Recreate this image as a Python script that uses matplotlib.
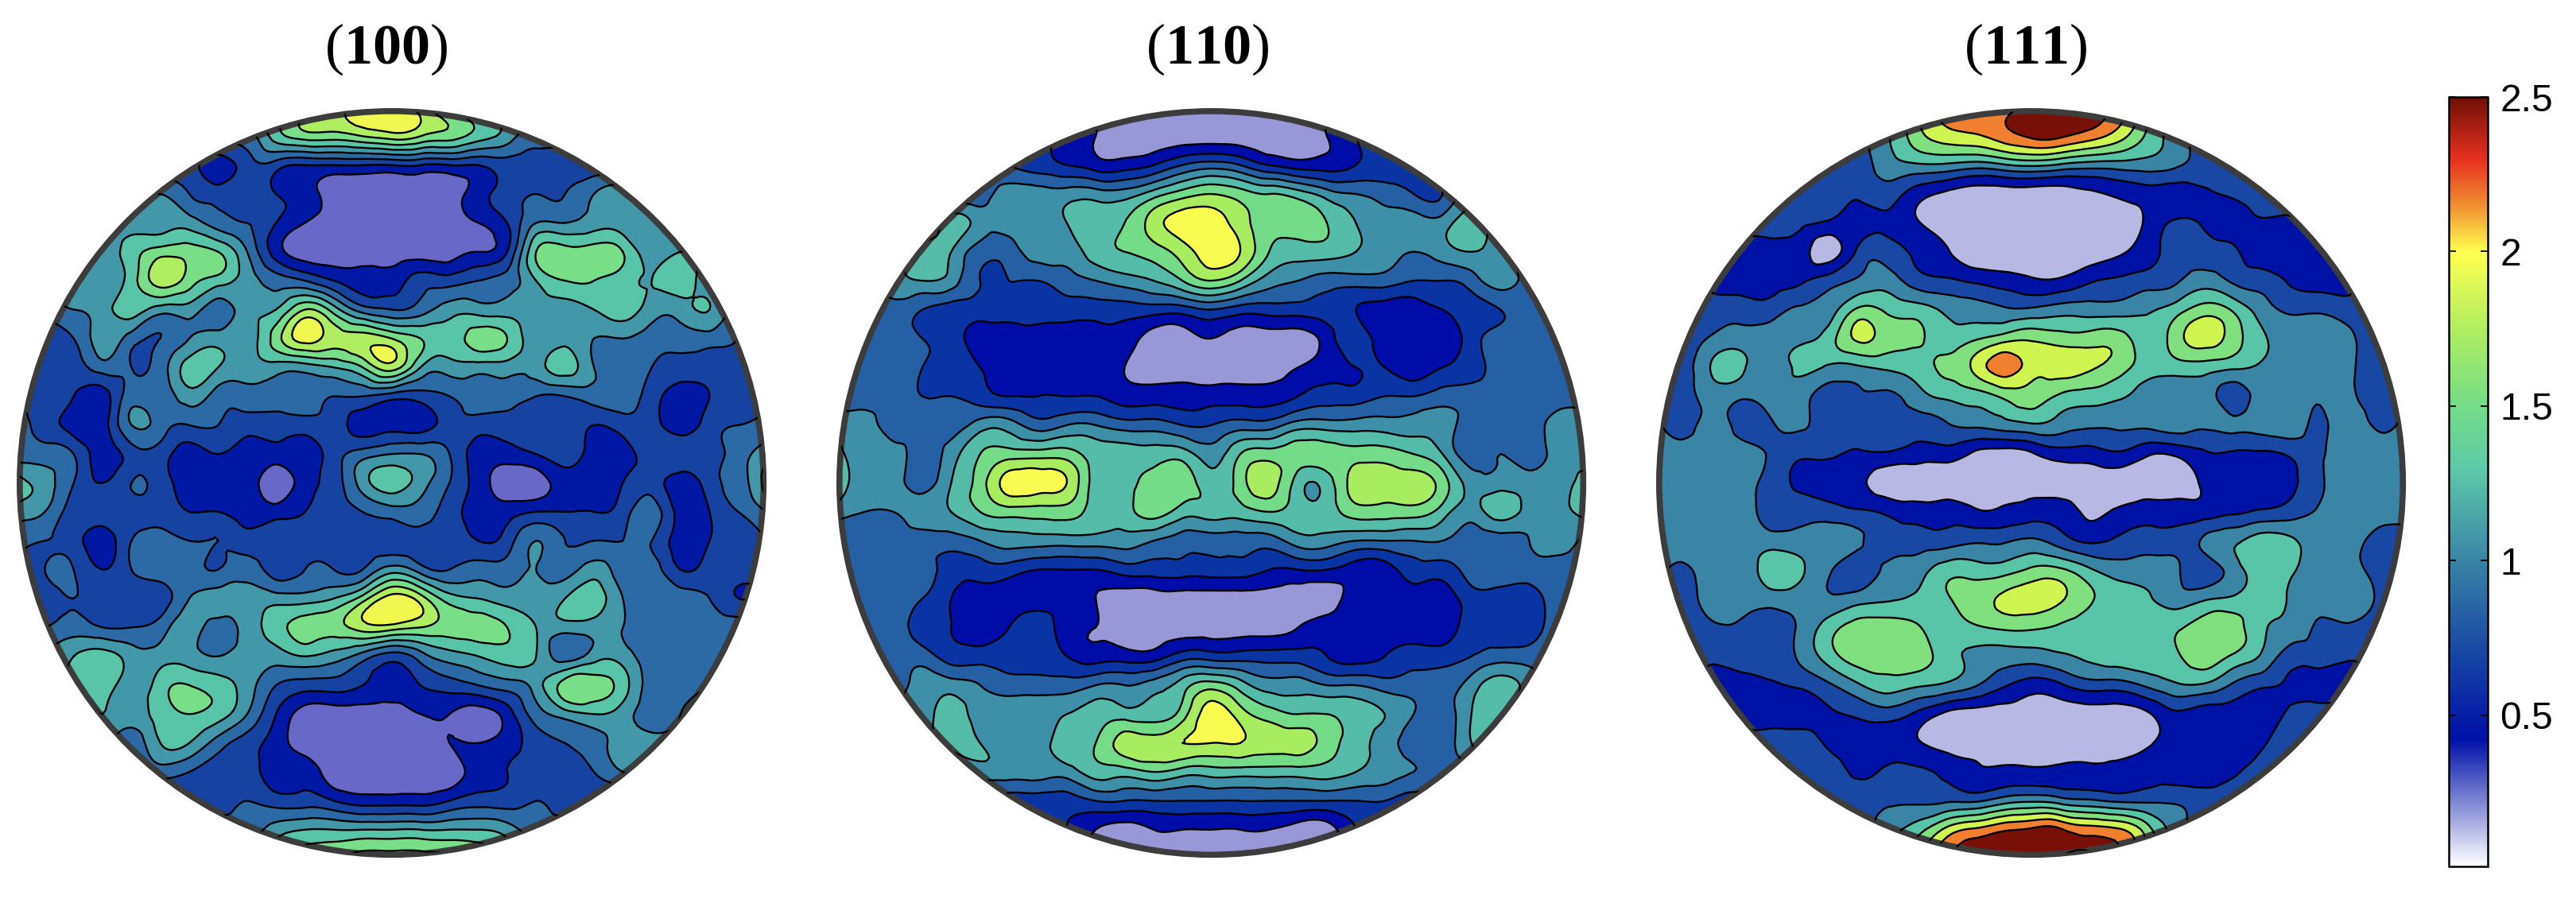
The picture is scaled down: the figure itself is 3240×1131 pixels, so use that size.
import numpy as np
import matplotlib
matplotlib.use('Agg')
import matplotlib.pyplot as plt
from matplotlib.colors import LinearSegmentedColormap, Normalize
from matplotlib.cm import ScalarMappable
from matplotlib.patches import Circle
from matplotlib.tri import Triangulation, UniformTriRefiner

# pole density, in tenths, on a regular grid over each disc
panel_100 = [
    [9,9,9,9,9,9,9,9,9,11,15,17,19,19,17,13,11,9,9,9,9,9,9,9,9,9,9],
    [9,9,9,9,9,9,9,9,9,13,15,15,16,17,16,15,13,11,9,9,9,9,9,9,9,9,9],
    [7,7,7,7,7,7,7,5,7,7,6,6,6,6,6,6,6,7,7,7,7,7,7,7,7,7,7],
    [9,9,9,9,9,10,8,7,7,6,5,3,3,3,3,3,5,7,8,8,10,11,11,11,11,11,11],
    [11,11,11,11,11,11,11,9,8,6,4,3,3,3,3,3,4,6,10,10,11,11,11,11,11,11,11],
    [11,11,11,11,13,15,15,14,10,5,3,3,3,3,3,3,4,6,14,15,15,14,11,12,11,11,11],
    [11,11,11,11,13,17,15,13,11,9,8,6,5,5,7,7,8,9,12,14,14,13,12,13,11,11,11],
    [9,9,10,11,13,11,11,9,11,12,16,13,9,8,9,11,11,11,11,11,12,13,11,11,12,9,9],
    [7,7,8,11,9,8,10,11,11,15,19,17,17,16,14,13,15,14,11,11,10,10,9,9,9,8,7],
    [5,7,7,9,8,9,13,12,11,11,11,12,14,17,12,11,11,11,11,13,10,9,8,7,7,7,7],
    [7,7,6,5,9,9,11,9,9,9,9,8,8,7,7,8,9,9,8,8,9,9,7,5,6,7,7],
    [9,7,5,5,10,9,8,8,7,7,7,7,5,5,5,7,7,7,7,7,6,7,7,5,7,8,9],
    [9,9,8,5,7,7,5,6,5,5,5,7,9,10,10,8,5,5,6,7,5,5,7,7,7,9,11],
    [13,11,8,6,8,7,5,5,5,3,5,7,11,13,11,8,5,3,3,5,5,6,7,5,7,9,13],
    [11,10,7,7,7,7,6,6,5,5,6,7,8,9,9,7,5,5,6,6,6,7,9,5,6,8,10],
    [9,8,7,5,8,9,8,8,7,7,7,7,7,7,7,7,6,7,10,8,8,8,8,5,6,7,8],
    [7,8,8,6,8,9,9,8,9,7,8,8,8,11,9,8,9,9,10,9,11,9,9,6,7,7,7],
    [7,7,8,7,7,7,10,11,11,11,11,12,15,19,17,13,12,11,11,12,13,10,9,9,8,6,7],
    [8,8,9,8,8,9,11,9,11,13,15,15,17,17,16,15,15,14,12,11,11,10,9,9,9,9,9],
    [11,11,12,13,11,11,11,10,11,11,12,11,9,7,9,11,12,13,12,9,11,11,9,9,9,9,9],
    [11,11,12,13,11,13,14,13,11,8,7,7,6,5,6,7,8,9,11,15,15,13,9,9,10,11,11],
    [11,11,11,12,11,13,14,13,10,6,3,3,3,3,4,4,3,5,9,11,12,11,9,10,11,11,11],
    [11,11,11,11,9,12,12,9,7,5,3,3,3,3,3,4,4,5,7,8,9,11,11,11,11,11,11],
    [9,9,9,9,9,9,8,7,7,5,5,3,3,3,3,3,5,6,7,7,8,10,11,11,11,11,11],
    [7,7,7,7,7,7,7,7,8,7,7,6,5,5,5,6,7,7,8,7,7,7,7,7,7,7,7],
    [9,9,9,9,9,9,9,9,9,11,12,12,12,12,12,12,12,11,9,9,9,9,9,9,9,9,9],
    [9,9,9,9,9,9,9,9,9,13,15,16,17,17,17,17,16,13,9,9,9,9,9,9,9,9,9],
]

panel_110 = [
    [7,7,7,7,7,7,7,5,4,3,3,3,3,3,3,3,3,3,5,7,7,7,7,7,7,7,7],
    [7,7,7,7,7,7,7,7,5,4,3,3,3,3,3,3,3,4,6,7,7,7,7,7,7,7,7],
    [9,9,9,9,9,9,8,7,6,5,5,6,8,9,8,6,5,5,6,7,8,9,9,9,9,9,9],
    [9,9,9,9,9,9,11,11,11,11,11,13,15,16,15,14,13,11,10,9,8,8,11,11,11,11,11],
    [9,9,9,9,13,11,11,11,12,13,14,17,19,19,17,15,15,14,12,11,11,11,13,11,11,11,11],
    [9,9,9,13,12,9,9,11,11,13,14,15,17,19,18,14,13,13,12,11,10,11,12,11,9,9,9],
    [9,9,11,12,11,8,8,8,9,10,11,12,14,16,14,11,10,9,9,9,8,8,9,11,9,9,9],
    [9,9,9,8,7,7,7,7,7,7,7,7,7,8,7,7,7,7,6,5,5,6,7,8,9,9,9],
    [9,9,9,8,7,5,5,5,5,5,5,3,3,4,3,3,3,5,7,5,5,5,7,9,9,9,9],
    [9,9,9,8,7,6,5,5,5,5,4,3,3,3,3,3,4,5,6,6,5,6,7,9,9,9,9],
    [9,9,9,8,8,7,6,6,6,6,5,5,5,5,5,5,6,7,7,8,8,9,9,9,9,9,9],
    [11,11,9,9,9,11,11,9,10,10,9,9,8,8,9,9,11,11,11,11,11,11,9,9,9,11,11],
    [13,11,11,9,11,14,15,15,15,13,13,13,13,11,14,15,15,15,15,15,14,12,9,10,9,11,11],
    [14,11,11,9,12,15,19,19,18,13,13,15,15,13,15,17,13,13,17,17,17,15,11,11,11,11,13],
    [11,10,10,11,12,14,15,15,15,13,13,15,13,13,13,14,13,13,15,15,15,13,11,13,11,11,13],
    [9,9,9,9,9,10,11,11,11,11,11,10,9,9,9,9,11,11,10,10,10,10,9,9,10,11,9],
    [9,9,9,9,7,7,7,6,6,6,7,7,7,7,7,6,6,6,5,5,7,7,9,9,9,9,9],
    [9,9,9,8,6,5,5,5,5,4,3,3,3,3,3,3,3,3,5,5,5,5,7,7,7,9,9],
    [9,9,9,7,6,5,6,7,5,4,3,3,3,3,3,3,4,5,5,5,5,5,7,7,7,9,9],
    [9,9,9,9,7,7,7,7,6,5,5,5,7,7,7,7,7,6,5,6,7,7,8,9,9,9,9],
    [9,9,9,11,11,10,9,9,9,10,10,11,13,15,13,11,11,10,10,9,9,9,11,13,11,9,9],
    [11,11,11,11,13,11,11,11,12,13,13,13,15,19,17,15,14,14,13,12,10,9,12,13,11,11,11],
    [11,11,11,11,13,12,11,11,13,14,17,17,18,18,18,17,17,15,13,11,9,9,12,13,11,11,11],
    [9,9,9,9,9,11,11,11,11,13,13,14,13,13,13,13,13,13,12,11,10,9,9,9,9,9,9],
    [7,7,7,7,7,7,7,7,7,8,8,8,8,8,8,8,8,8,8,8,7,7,7,7,7,7,7],
    [7,7,7,7,7,7,7,7,6,4,3,4,4,4,4,4,3,3,6,7,7,7,7,7,7,7,7],
    [7,7,7,7,7,7,7,7,5,3,3,3,3,3,3,3,3,3,5,7,7,7,7,7,7,7,7],
]

panel_111 = [
    [7,7,7,7,7,7,7,10,10,16,22,22,22,25,25,25,22,16,10,7,7,7,7,7,7,7,7],
    [7,7,7,7,7,7,7,8,11,16,19,20,22,24,24,22,19,14,10,7,7,7,7,7,7,7,7],
    [7,7,7,7,7,7,7,7,10,11,11,10,11,12,11,10,10,10,9,7,7,7,7,7,7,7,7],
    [7,7,7,7,7,7,7,6,7,4,2,1,1,1,1,2,3,4,4,5,6,7,7,7,7,7,7],
    [7,7,7,7,7,6,5,4,5,3,1,1,1,1,1,1,1,3,6,5,4,5,5,7,7,7,7],
    [7,7,7,4,4,4,1,6,7,5,3,1,1,1,1,1,2,4,7,7,6,4,4,4,7,7,7],
    [7,7,5,4,4,5,7,9,10,7,6,5,4,3,3,5,6,7,8,10,8,7,5,4,5,7,7],
    [7,7,7,7,7,9,10,15,14,13,11,10,9,9,10,10,10,11,13,16,14,10,8,8,7,7,7],
    [7,7,9,10,10,11,13,18,16,15,13,14,16,17,16,16,16,13,16,19,16,12,10,10,9,7,7],
    [7,7,12,12,10,12,11,11,12,13,15,18,22,19,19,18,16,13,13,13,12,11,10,10,9,7,7],
    [7,7,10,9,10,10,7,8,8,10,12,13,15,16,14,13,12,10,10,10,7,10,9,9,9,7,7],
    [10,7,10,7,8,9,7,7,8,7,8,9,10,11,10,9,9,9,10,9,9,10,10,8,10,8,10],
    [10,10,10,10,8,6,6,5,5,4,4,2,1,2,4,4,5,3,3,5,5,5,6,8,10,10,10],
    [11,10,10,10,7,5,4,3,1,1,1,1,1,1,1,1,1,1,1,3,4,4,5,8,10,10,11],
    [10,10,10,10,7,7,7,6,5,4,4,3,3,4,4,2,3,4,4,4,5,6,7,9,10,10,10],
    [10,10,10,10,10,10,10,9,7,7,7,8,8,9,7,5,6,7,7,9,11,13,12,10,10,7,7],
    [10,8,10,10,13,12,9,7,9,10,13,13,13,15,15,12,10,10,9,7,10,13,12,10,10,7,7],
    [7,7,10,10,10,10,9,10,11,12,14,16,18,19,18,15,13,12,10,11,12,13,11,10,11,8,7],
    [7,7,8,8,7,9,13,16,16,15,13,14,15,15,14,13,13,13,14,16,16,12,10,8,8,7,7],
    [7,7,6,7,7,9,13,16,16,16,13,11,10,10,11,12,13,13,14,16,14,11,7,7,6,7,7],
    [7,7,5,4,5,6,8,11,13,12,11,9,6,4,5,7,7,9,11,11,8,6,5,4,4,7,7],
    [7,7,7,4,4,4,5,6,7,5,2,1,1,1,1,1,1,2,5,4,4,4,6,7,7,7,7],
    [7,7,7,7,7,7,5,4,4,3,1,1,1,1,1,1,1,2,4,4,3,5,7,7,7,7,7],
    [7,7,7,7,7,7,7,5,6,6,5,3,3,3,3,3,3,4,4,4,5,7,7,7,7,7,7],
    [7,7,7,7,7,7,7,7,8,8,8,8,10,11,10,9,8,8,8,7,7,7,7,7,7,7,7],
    [7,7,7,7,7,7,7,7,10,13,18,21,23,24,24,22,21,16,10,7,7,7,7,7,7,7,7],
    [7,7,7,7,7,7,7,7,10,16,22,25,25,25,23,22,22,16,10,7,7,7,7,7,7,7,7],
]

titles = [r'$(\mathbf{100})$', r'$(\mathbf{110})$', r'$(\mathbf{111})$']
levels_100 = [-1, 0.4, 0.6, 0.8, 1.0, 1.2, 1.4, 1.6, 1.8, 5]
levels_111 = [-1, 0.25, 0.55, 0.85, 1.15, 1.45, 1.75, 2.05, 2.35, 5]
colors_100 = ['#6868c8', '#0018a4', '#1642a2', '#2c6aa6', '#4298a8', '#58c4a8', '#78de88', '#aeee60', '#f0f850']
colors_110 = ['#9898d8', '#000ca8', '#0a34a4', '#2660a4', '#3e90a8', '#54bca8', '#74dc88', '#a8ec60', '#f8fc50']
colors_111 = ['#b8b8e4', '#0012a6', '#1848a4', '#3a84a6', '#58c4a8', '#80e080', '#d0f450', '#f08030', '#781008']
cbar_ticks = [0.5, 1, 1.5, 2, 2.5]
cbar_labels = ['0.5', '1', '1.5', '2', '2.5']
cmap_values = [0.01, 0.42, 0.72, 1.0, 1.3, 1.5, 1.75, 2.0, 2.15, 2.3, 2.5]
cmap_colors = ['#ffffff', '#0010a8', '#1a4aa4', '#3a84a6', '#5ecaa8', '#74dc88', '#b0ee60', '#ffff50', '#f09030', '#e83020', '#701008']

W, H = 3240, 1131
plt.rcParams['mathtext.fontset'] = 'custom'
plt.rcParams['mathtext.rm'] = 'Liberation Serif'
plt.rcParams['mathtext.bf'] = 'Liberation Serif:bold'
fig = plt.figure(figsize=(W / 100, H / 100), dpi=100)


def px_axes(x, y, w, h):
    return fig.add_axes([x / W, 1 - (y + h) / H, w / W, h / H])


def draw_panel(values, levels, colors, left, title, title_x):
    ax = px_axes(left, 135, 950, 950)
    ax.set_xlim(0, 1568)
    ax.set_ylim(1568, 0)
    ax.axis('off')
    z = np.array(values) / 10
    xs = np.arange(z.shape[1]) * 60.0
    ys = np.arange(z.shape[0]) * 60.0
    X, Y = np.meshgrid(xs, ys)
    tri = Triangulation(X.ravel(), Y.ravel())
    # refined by matplotlib only so the contour lines come out round
    tri2, z2 = UniformTriRefiner(tri).refine_field(z.ravel(), subdiv=3)
    disc = Circle((780, 780), 772, transform=ax.transData, fc='none', ec='none')
    ax.add_patch(disc)
    filled = ax.tricontourf(tri2, z2, levels=levels, colors=colors)
    lines = ax.tricontour(tri2, z2, levels=levels[1:-1], colors='k', linewidths=1.7)
    filled.set_clip_path(disc)
    lines.set_clip_path(disc)
    ax.add_patch(Circle((780, 780), 772, fc='none', ec='#3c3c3c', lw=5.5, clip_on=False))
    fig.text(title_x / W, 1 - 62 / H, title, fontsize=52, ha='center', va='center')


draw_panel(panel_100, levels_100, colors_100, 20, titles[0], 486)
draw_panel(panel_110, levels_100, colors_110, 1051, titles[1], 1519)
draw_panel(panel_111, levels_111, colors_111, 2082, titles[2], 2548)

# colorbar
cax = px_axes(3080, 122, 49, 968)
stops = [(v - cmap_values[0]) / (cmap_values[-1] - cmap_values[0]) for v in cmap_values]
cmap = LinearSegmentedColormap.from_list('pole', list(zip(stops, cmap_colors)), N=512)
sm = ScalarMappable(norm=Normalize(cmap_values[0], cmap_values[-1]), cmap=cmap)
cb = fig.colorbar(sm, cax=cax)
cb.set_ticks(cbar_ticks)
cb.set_ticklabels(cbar_labels)
cb.outline.set_linewidth(1.8)
cb.ax.tick_params(direction='in', left=True, right=True, length=6.5, width=1.3, pad=11,
                  labelsize=34.6, labelfontfamily='Liberation Sans')

fig.savefig('out.png', dpi=100)
